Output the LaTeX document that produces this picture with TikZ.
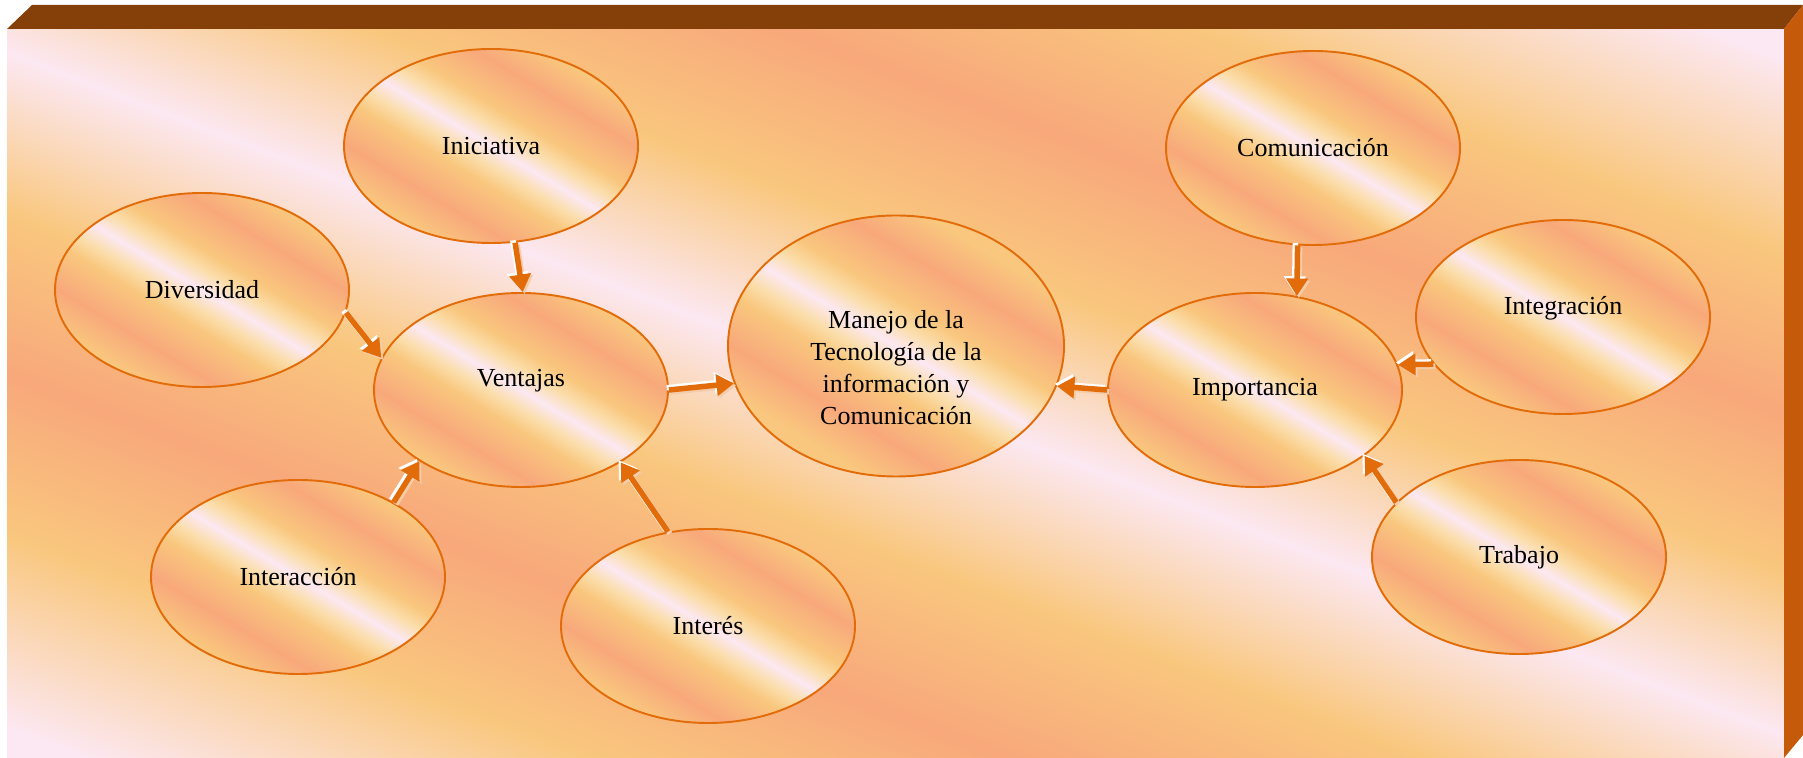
\documentclass[tikz,border=0pt]{standalone}
\usepackage{fontspec}
\setmainfont{Liberation Serif}
\usetikzlibrary{shapes.geometric,arrows.meta}

\definecolor{rosa}{RGB}{252,232,242}
\definecolor{crema}{RGB}{251,222,172}
\definecolor{durazno}{RGB}{249,199,126}
\definecolor{salmonF}{RGB}{248,168,123}
\definecolor{naranja}{RGB}{227,108,10}
\definecolor{cafe}{RGB}{133,64,10}
\definecolor{lado}{RGB}{197,90,10}

% degradado del fondo (32cm a lo ancho de las franjas)
\pgfdeclarehorizontalshading{fondo}{40cm}{color(0cm)=(rosa); color(3.4cm)=(rosa);
  color(7cm)=(durazno); color(10cm)=(salmonF); color(13cm)=(durazno);
  color(16cm)=(rosa); color(19cm)=(durazno); color(22cm)=(salmonF);
  color(25cm)=(durazno); color(28.6cm)=(rosa); color(32cm)=(rosa)}
% degradado de las burbujas
\pgfdeclarehorizontalshading{brillo}{7cm}{color(0cm)=(durazno); color(0.8cm)=(durazno);
  color(1.52cm)=(salmonF); color(2.3cm)=(durazno); color(2.65cm)=(crema);
  color(3cm)=(rosa); color(3.35cm)=(crema); color(3.7cm)=(durazno);
  color(4.48cm)=(salmonF); color(5.2cm)=(durazno); color(6cm)=(durazno)}

\begin{document}
\begin{tikzpicture}[font=\fontsize{14.8}{18.2}\selectfont,
  burbuja/.style={ellipse, draw=naranja, line width=1.1pt, fill=durazno,
    minimum width=5.88cm, minimum height=3.88cm, inner sep=0pt,
    path picture={\node[rotate=59, inner sep=0pt, scale=#1] (brillo)
      at (path picture bounding box.center) {\pgfuseshading{brillo}};}},
  burbuja/.default=1,
  flecha/.style={line width=0.11cm, -{Triangle[length=0.35cm,width=0.42cm]}}]
  \useasboundingbox (0,0) rectangle (36.06,15.16);
  % fondo (caja en relieve)
  \begin{scope}
    \clip (0.14,0) rectangle (35.68,14.58);
    \node[rotate=69, inner sep=0pt] (lienzo) at (17.91,7.29) {\pgfuseshading{fondo}};
  \end{scope}
  \fill[cafe] (0.14,14.58) -- (0.64,15.06) -- (36.06,15.06) -- (35.68,14.58) -- cycle;
  \fill[lado] (35.68,14.58) -- (36.06,15.06) -- (36.06,0.46) -- (35.68,0) -- cycle;
  % izquierda: ventajas
  \node[burbuja] (ini) at (9.82,12.24) {Iniciativa};
  \node[burbuja] (div) at (4.04,9.36) {Diversidad};
  \node[burbuja] (ven) at (10.42,7.36) {\raisebox{0.48cm}{Ventajas}};
  \node[burbuja] (int) at (5.96,3.62) {Interacción};
  \node[burbuja] (intr) at (14.16,2.64) {Interés};
  % centro
  \node[burbuja=1.15, minimum width=6.72cm, minimum height=5.22cm] (tic) at (17.92,8.24) {};
  \node[align=center] (ticlbl) at ([yshift=-0.44cm]tic.center)
    {Manejo de la\\Tecnología de la\\información y\\Comunicación};
  % derecha: importancia
  \node[burbuja] (com) at (26.26,12.20) {Comunicación};
  \node[burbuja] (imp) at (25.10,7.36) {Importancia};
  \node[burbuja] (itg) at (31.26,8.82) {\raisebox{0.46cm}{Integración}};
  \node[burbuja] (tra) at (30.38,4.02) {Trabajo};
  % flechas
  \foreach \desde/\hasta in {ini.-76/ven.89, div.-9/ven.167, int.38/ven.-145,
      intr.113/ven.-36, ven.0/tic.193, imp.180/tic.-14, com.-99/imp.66,
      itg.-160/imp.10, tra.156/imp.-31}{
    \draw[flecha, draw=naranja!35, transform canvas={shift={(0.04,-0.04)}}] (\desde) -- (\hasta);
    \draw[flecha, draw=white, transform canvas={shift={(-0.045,0.045)}}] (\desde) -- (\hasta);
    \draw[flecha, draw=naranja] (\desde) -- (\hasta);
  }
\end{tikzpicture}
\end{document}
